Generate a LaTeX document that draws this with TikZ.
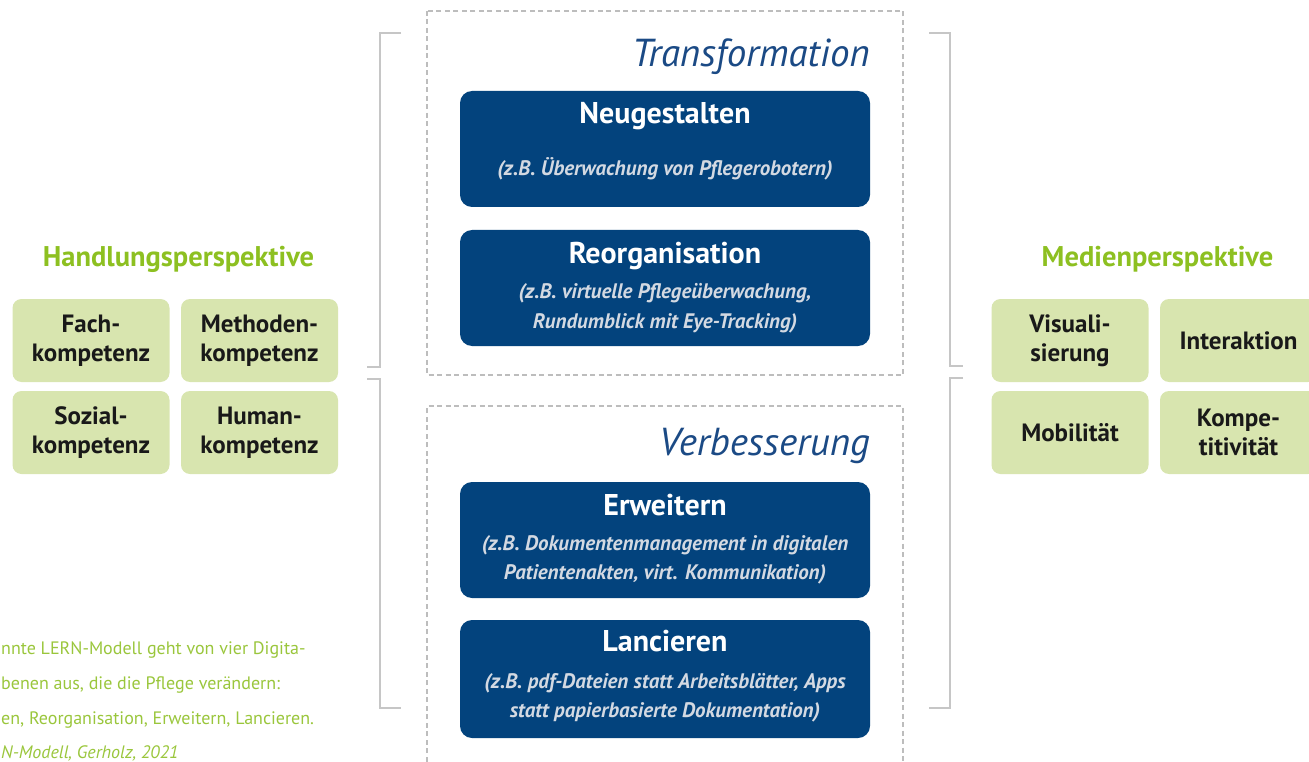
\documentclass[tikz,border=0pt]{standalone}
\usepackage{fontspec}
\setmainfont{PT Sans}
\definecolor{navy}{HTML}{03437D}
\definecolor{titleblue}{HTML}{1B4A85}
\definecolor{subgray}{HTML}{D3D9E2}
\definecolor{lgreen}{HTML}{D8E5AF}
\definecolor{hgreen}{HTML}{8DC021}
\definecolor{tgreen}{HTML}{9AC63C}
\definecolor{bandblue}{HTML}{E0E9F6}
\definecolor{brgray}{HTML}{C6C6C6}
\definecolor{dashgray}{HTML}{BDBDBD}
\begin{document}
\begin{tikzpicture}[x=1pt,y=-1pt,
  navybox/.style={draw=none,fill=navy,rounded corners=12pt,minimum width=410pt,inner sep=0pt},
  greenbox/.style={draw=none,fill=lgreen,rounded corners=9pt,minimum width=157pt,minimum height=83pt,inner sep=0pt,
     align=center,font=\fontsize{25}{29}\selectfont\bfseries,text=black!90},
  boxtitle/.style={anchor=base,inner sep=0pt,text=white,font=\fontsize{30}{32}\selectfont\bfseries},
  boxsub/.style={anchor=base,inner sep=0pt,text=subgray,font=\fontsize{21}{23}\selectfont\bfseries\itshape},
  phase/.style={anchor=base east,inner sep=0pt,text=titleblue,font=\fontsize{39}{40}\selectfont\itshape},
  heading/.style={anchor=base,inner sep=0pt,text=hgreen,font=\fontsize{28.5}{30}\selectfont\bfseries},
  note/.style={anchor=base west,inner sep=0pt,text=tgreen,font=\fontsize{18}{19}\selectfont},
  bracket/.style={draw=brgray,line width=2pt},
  dashbox/.style={draw=dashgray,line width=1.3pt,dash pattern=on 5pt off 3.5pt}]
\useasboundingbox (0,0) rectangle (1309,762);
\clip (0,0) rectangle (1309,762);
% background band
\shade[top color=white,middle color=bandblue,bottom color=white,draw=none] (245,105) rectangle (1085,690);
% dashed frames
\fill[white] (427,11) rectangle (903,375);
\draw[dashbox] (427,11) rectangle (903,375);
\fill[white] (427,406) rectangle (903,770);
\draw[dashbox] (427,770) -- (427,406) -- (903,406) -- (903,770);
% brackets
\coordinate (lt1) at (401,33); \coordinate (lt2) at (367,367);
\coordinate (lb1) at (367,379); \coordinate (lb2) at (401,708);
\draw[bracket] (lt1) -| (380,367) -- (lt2);
\draw[bracket] (lb1) -- (380,379) |- (lb2);
\coordinate (rt1) at (929,33); \coordinate (rt2) at (963,366);
\coordinate (rb1) at (963,378); \coordinate (rb2) at (929,708);
\draw[bracket] (rt1) -| (950,366) -- (rt2);
\draw[bracket] (rb1) -- (950,378) |- (rb2);
% phase titles
\node[phase] (trans) at (870,67) {Transformation};
\node[phase] (verb) at (870,455) {Verbesserung};
% navy boxes
\node[navybox,minimum height=116pt] (neu) at (665,149) {};
\node[boxtitle] (neuT) at (665,124) {Neugestalten};
\node[boxsub] (neuS) at (665,176) {(z.B. Überwachung von Pflegerobotern)};
\node[navybox,minimum height=116pt] (reo) at (665,288) {};
\node[boxtitle] (reoT) at (665,263) {Reorganisation};
\node[boxsub] (reoS1) at (665,298) {(z.B. virtuelle Pflegeüberwachung,};
\node[boxsub] (reoS2) at (665,328) {Rundumblick mit Eye-Tracking)};
\node[navybox,minimum height=116pt] (erw) at (665,540) {};
\node[boxtitle] (erwT) at (665,515) {Erweitern};
\node[boxsub] (erwS1) at (665,550) {(z.B. Dokumentenmanagement in digitalen};
\node[boxsub] (erwS2) at (665,579) {Patientenakten, virt. Kommunikation)};
\node[navybox,minimum height=118pt] (lan) at (665,679) {};
\node[boxtitle] (lanT) at (665,651) {Lancieren};
\node[boxsub] (lanS1) at (665,688) {(z.B. pdf-Dateien statt Arbeitsblätter, Apps};
\node[boxsub] (lanS2) at (665,717) {statt papierbasierte Dokumentation)};
% left perspective
\node[heading] (hp) at (178.5,266) {Handlungsperspektive};
\node[greenbox] (fach) at (91,340.5) {Fach-\\kompetenz};
\node[greenbox] (meth) at (259.5,340.5) {Methoden-\\kompetenz};
\node[greenbox] (soz) at (91,432.5) {Sozial-\\kompetenz};
\node[greenbox] (hum) at (259.5,432.5) {Human-\\kompetenz};
% right perspective
\node[heading] (mp) at (1157.5,266) {Medienperspektive};
\node[greenbox] (vis) at (1070,340.5) {Visuali-\\sierung};
\node[greenbox] (int) at (1238.5,340.5) {Interaktion};
\node[greenbox] (mob) at (1070,432.5) {Mobilität};
\node[greenbox] (komp) at (1238.5,432.5) {Kompe-\\titivität};
% note text
\node[note] (n1) at (1,654) {nnte LERN-Modell geht von vier Digita-};
\node[note] (n2) at (1,689) {benen aus, die die Pflege verändern:};
\node[note] (n3) at (1,724) {en, Reorganisation, Erweitern, Lancieren.};
\node[note,font=\fontsize{18}{19}\selectfont\itshape] (n4) at (1,758) {N-Modell, Gerholz, 2021};
\end{tikzpicture}
\end{document}
